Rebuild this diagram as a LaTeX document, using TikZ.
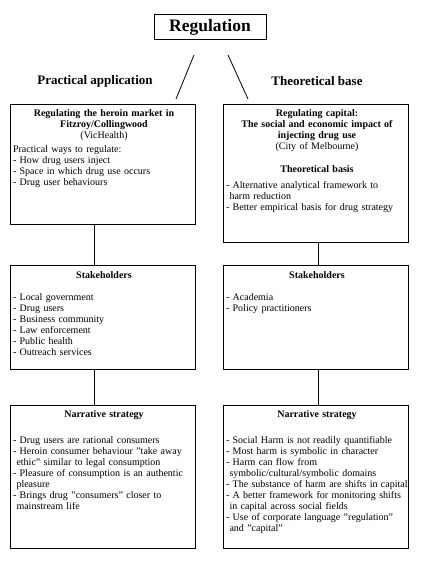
\documentclass[tikz,border=0pt]{standalone}
\usepackage{fontspec}
\setmainfont{Liberation Serif}
\begin{document}
\begin{tikzpicture}[x=1pt,y=-1pt,inner sep=0pt,outer sep=0pt,line width=0.8pt,
panel/.style={draw,rectangle,minimum width=185pt},
paneltext/.style={anchor=north west,text width=182pt,align=left,font=\fontsize{10}{11}\selectfont},
side/.style={font=\fontsize{13}{15}\selectfont\bfseries}]

\useasboundingbox (0,0) rectangle (420,561);

\draw (210,27.5) node[draw,rectangle,minimum width=112pt,minimum height=25pt,line width=1pt,font=\fontsize{17.5}{20}\selectfont\bfseries] (reg) {Regulation};
\draw (95,81) node[side] (prac) {Practical application};
\draw (317,81) node[side] (theo) {Theoretical base};

\coordinate (ltop) at (194,55);
\coordinate (lbot) at (176,99);
\coordinate (rtop) at (228,55);
\coordinate (rbot) at (248,99);
\draw (ltop) -- (lbot);
\draw (rtop) -- (rbot);

\draw (102.5,164) node[panel,minimum height=120pt] (lmarket) {};
\draw (315.5,173) node[panel,minimum height=138pt] (rcapital) {};
\draw (102.5,317) node[panel,minimum height=104pt] (lstake) {};
\draw (315.5,317) node[panel,minimum height=104pt] (rstake) {};
\draw (102.5,476.5) node[panel,minimum height=143pt] (lnarr) {};
\draw (315.5,476.5) node[panel,minimum height=143pt] (rnarr) {};

\node[paneltext] (lmarkettxt) at ([xshift=3pt,yshift=-6pt]lmarket.north west) {{\centering\bfseries Regulating the heroin market in\\Fitzroy/Collingwood\\\mdseries(VicHealth)\par}\vspace{3pt}Practical ways to regulate:\\- How drug users inject\\- Space in which drug use occurs\\- Drug user behaviours};
\node[paneltext] (rcapitaltxt) at ([xshift=3pt,yshift=-6pt]rcapital.north west) {{\centering\bfseries Regulating capital:\\The social and economic impact of\\injecting drug use\\\mdseries(City of Melbourne)\\[12pt]\bfseries Theoretical basis\par}\vspace{5pt}- Alternative analytical framework to\\\hspace*{3.5pt}harm reduction\\- Better empirical basis for drug strategy};
\node[paneltext] (lstaketxt) at ([xshift=3pt,yshift=-7pt]lstake.north west) {{\centering\bfseries Stakeholders\par}\vspace{11pt}- Local government\\- Drug users\\- Business community\\- Law enforcement\\- Public health\\- Outreach services};
\node[paneltext] (rstaketxt) at ([xshift=3pt,yshift=-7pt]rstake.north west) {{\centering\bfseries Stakeholders\par}\vspace{11pt}- Academia\\- Policy practitioners};
\node[paneltext] (lnarrtxt) at ([xshift=3pt,yshift=-6pt]lnarr.north west) {{\centering\bfseries Narrative strategy\par}\vspace{15pt}- Drug users are rational consumers\\- Heroin consumer behaviour "take away\\\hspace*{3.5pt}ethic" similar to legal consumption\\- Pleasure of consumption is an authentic\\\hspace*{3.5pt}pleasure\\- Brings drug "consumers" closer to\\\hspace*{3.5pt}mainstream life};
\node[paneltext] (rnarrtxt) at ([xshift=3pt,yshift=-6pt]rnarr.north west) {{\centering\bfseries Narrative strategy\par}\vspace{15pt}- Social Harm is not readily quantifiable\\- Most harm is symbolic in character\\- Harm can flow from\\\hspace*{3.5pt}symbolic/cultural/symbolic domains\\- The substance of harm are shifts in capital\\- A better framework for monitoring shifts\\\hspace*{3.5pt}in capital across social fields\\- Use of corporate language "regulation"\\\hspace*{3.5pt}and "capital"};

\draw ([xshift=-8.5pt]lmarket.south) -- ([xshift=-8.5pt]lstake.north);
\draw ([xshift=-8.5pt]lstake.south) -- ([xshift=-8.5pt]lnarr.north);
\draw ([xshift=2.5pt]rcapital.south) -- ([xshift=2.5pt]rstake.north);
\draw ([xshift=2.5pt]rstake.south) -- ([xshift=2.5pt]rnarr.north);
\end{tikzpicture}
\end{document}
